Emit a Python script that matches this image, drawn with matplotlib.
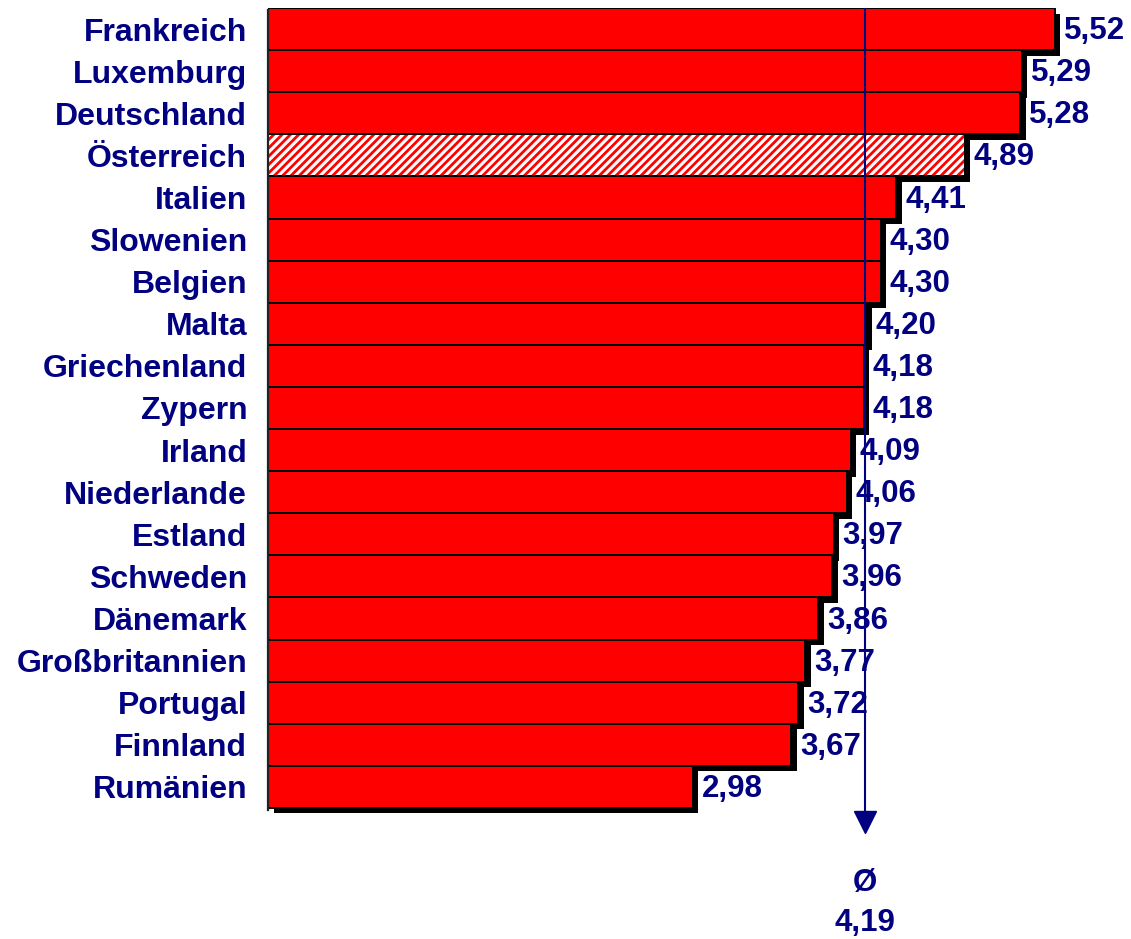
import matplotlib
matplotlib.use("Agg")
import matplotlib.pyplot as plt
import matplotlib.patheffects as pe

plt.rcParams['font.family'] = ['Liberation Sans', 'DejaVu Sans']
plt.rcParams['font.weight'] = 'bold'
plt.rcParams['hatch.linewidth'] = 2.0

laender = ["Frankreich", "Luxemburg", "Deutschland", "Österreich", "Italien",
           "Slowenien", "Belgien", "Malta", "Griechenland", "Zypern", "Irland",
           "Niederlande", "Estland", "Schweden", "Dänemark", "Großbritannien",
           "Portugal", "Finnland", "Rumänien"]
werte = [5.52, 5.29, 5.28, 4.89, 4.41, 4.30, 4.30, 4.20, 4.18, 4.18, 4.09,
         4.06, 3.97, 3.96, 3.86, 3.77, 3.72, 3.67, 2.98]
durchschnitt = 4.19
hervorgehoben = "Österreich"

navy = '#000080'
rot = '#ff0000'

fig = plt.figure(figsize=(11.31, 9.39), dpi=100)
ax = fig.add_axes([268 / 1131, 0, (1131 - 268) / 1131, (939 - 8) / 939])

pos = list(range(len(laender)))
farben = ['white' if l == hervorgehoben else rot for l in laender]

schatten = [pe.SimplePatchShadow(offset=(4.0, -4.0), shadow_rgbFace='black', alpha=1.0),
            pe.Normal()]
balken = ax.barh(pos, werte, height=1.0, color=farben, edgecolor='black', linewidth=1.4)
for b in balken:
    b.set_path_effects(schatten)

# schraffierter Balken (Österreich)
i = laender.index(hervorgehoben)
ax.barh(pos[i], werte[i], height=1.0, facecolor='none', edgecolor=rot,
        linewidth=0, hatch='////')
ax.barh(pos[i], werte[i], height=1.0, facecolor='none', edgecolor='black',
        linewidth=1.4)

# Werte
for p, v in zip(pos, werte):
    ax.annotate(f"{v:.2f}".replace('.', ','), (v, p), xytext=(6.5, -1.5),
                textcoords='offset points', va='center', ha='left',
                fontsize=22.5, color=navy, fontweight='bold', zorder=6)

# Durchschnittslinie mit Pfeil
ax.plot([durchschnitt, durchschnitt], [-0.5, 18.62], color=navy, lw=1.5, zorder=5)
ax.plot(durchschnitt, 18.83, marker='v', ms=16, color=navy, zorder=5, clip_on=False)
ax.text(durchschnitt, 20.29, "Ø", ha='center', va='center', fontsize=22.5,
        color=navy, fontweight='bold')
ax.text(durchschnitt, 21.23, f"{durchschnitt:.2f}".replace('.', ','),
        ha='center', va='center', fontsize=22.5, color=navy, fontweight='bold')

ax.set_xlim(0, 863 / 142.5)
ax.set_ylim(21.614, -0.5)
ax.set_yticks(pos, laender)
ax.tick_params(axis='y', length=0, pad=15, labelsize=23, labelcolor=navy)
ax.set_xticks([])
for s in ['top', 'right', 'bottom']:
    ax.spines[s].set_visible(False)
ax.spines['left'].set_bounds(-0.45, 18.55)
ax.spines['left'].set_linewidth(1.6)
ax.spines['left'].set_color('#222222')
ax.spines['left'].set_zorder(4)

fig.savefig("out.png", dpi=100)
